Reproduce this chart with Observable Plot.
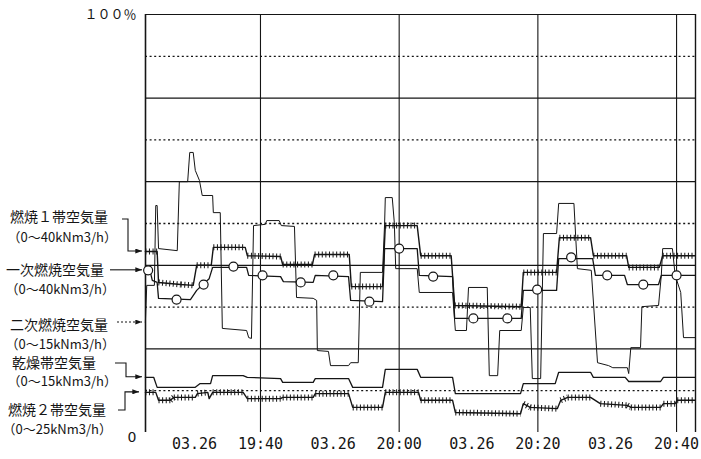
<!DOCTYPE html>
<html><head><meta charset="utf-8">
<script src="https://cdn.jsdelivr.net/npm/d3@7"></script>
<script src="https://cdn.jsdelivr.net/npm/@observablehq/plot@0.6"></script>
<style>body{margin:0;background:#fff} svg{display:block}</style>
</head><body><div id="chart"></div>
<script>
// time in minutes after 19:00, values in % of range
const timeTicks = [40, 60, 80, 100];
const timeLabels = ["19:40", "20:00", "20:20", "20:40"];
const dateLabel = "03.26";
const xDomain = [23.42, 102.73];

// 燃焼1帯空気量 (0~40kNm3/h)
const aT = [23.4,25.1,25.3,28.5,30.3,30.8,32.9,33.2,37.8,38.1,42.9,43.2,47.5,47.8,52.8,53.1,57.6,58.0,62.6,63.1,67.5,68.0,77.6,77.9,82.7,83.1,87.6,88.0,92.8,93.1,97.5,98.0,102.7];
const aV = [43.3,43.3,35.9,35.4,35.2,40.0,40.0,44.3,44.3,42.3,42.1,40.2,40.2,42.6,42.6,34.9,34.9,49.5,49.5,42.3,42.3,30.4,30.1,38.3,38.3,46.6,46.6,42.3,42.3,39.5,39.5,42.3,42.3];

// 一次燃焼空気量 (0~40kNm3/h)
const bT = [23.4,24.1,24.4,25.1,25.3,29.9,30.8,31.8,32.6,33.1,38.0,38.3,42.9,43.3,47.6,47.9,52.7,53.0,57.6,57.9,62.6,62.9,67.7,68.0,77.6,77.9,82.7,83.0,87.9,88.3,92.5,92.9,97.4,97.8,102.7];
const bV = [38.8,38.5,36.4,35.9,32.1,31.8,34.0,35.6,36.8,39.5,39.5,37.6,37.3,36.1,35.9,37.6,37.3,31.6,31.3,44.0,44.0,37.6,37.3,27.3,27.3,34.0,34.0,41.6,41.6,37.6,37.6,35.4,35.4,37.6,37.6];
const bMarkT = [23.8,27.9,31.8,36.1,40.3,45.8,50.5,55.7,60.0,64.9,70.7,75.6,79.9,84.8,90.0,95.2,100.0];
const bMarkV = [38.8,31.8,35.4,39.7,37.6,35.9,37.6,31.3,44.0,37.3,27.3,27.3,34.2,41.9,37.6,35.4,37.6];

// 二次燃焼空気量 (0~15kNm3/h)
const cT = [23.4,23.6,24.7,24.9,25.1,25.3,28.0,28.3,29.5,29.8,30.3,30.6,31.2,31.6,33.1,33.2,34.2,34.5,38.0,38.3,38.7,39.0,40.7,40.9,42.7,43.0,44.9,45.2,47.6,48.1,48.2,49.8,50.1,52.7,53.0,54.1,54.4,57.6,57.9,58.0,59.0,59.3,59.5,62.6,62.9,67.7,68.1,69.7,70.0,72.7,73.0,74.2,74.5,77.6,77.9,78.9,79.2,80.4,80.8,82.7,83.0,85.2,85.7,87.7,88.6,90.2,90.8,92.9,93.1,93.4,94.8,95.0,97.4,97.8,98.0,99.4,99.8,100.6,101.0,102.7];
const cV = [26.3,35.2,35.2,54.3,54.3,44.0,43.5,60.0,60.0,67.0,67.0,62.7,60.3,56.7,56.7,52.6,52.6,24.9,24.4,22.7,22.5,49.5,49.8,50.7,50.7,49.5,49.3,32.3,32.1,31.6,19.6,19.4,16.0,16.0,16.7,16.7,38.3,38.3,50.0,56.2,56.2,50.2,39.2,39.2,33.5,33.5,24.4,24.4,34.7,34.7,13.6,13.6,24.4,24.4,29.9,29.9,12.9,12.9,47.6,47.6,54.8,54.8,39.2,38.8,16.7,16.0,15.5,15.5,14.1,20.3,20.3,30.1,30.4,37.6,44.0,44.0,37.6,33.5,22.7,22.7];

// 乾燥帯空気量 (0~15kNm3/h)
const eT = [23.4,24.6,25.1,30.6,31.3,32.8,33.1,37.5,38.1,42.9,43.2,47.6,47.9,52.7,53.3,57.6,58.0,62.6,63.1,67.7,68.1,77.5,77.9,82.5,83.0,87.6,88.0,92.6,93.1,97.7,98.1,102.7];
const eV = [13.2,13.2,10.8,10.8,11.7,11.7,13.6,13.6,13.2,12.9,12.0,12.0,12.9,12.9,10.8,10.8,15.1,15.1,13.2,13.2,9.3,9.3,11.7,11.7,14.4,14.4,13.2,13.2,12.2,12.2,13.2,13.2];

// 燃焼2帯空気量 (0~25kNm3/h)
const fT = [23.4,24.9,25.3,27.0,27.5,30.6,30.9,32.4,32.6,33.1,37.5,38.1,42.9,43.2,47.6,47.9,52.7,53.3,57.6,58.0,62.8,63.1,67.7,68.1,77.5,77.9,78.9,82.8,83.3,84.3,87.6,89.0,92.9,93.4,97.7,98.1,99.8,100.1,102.7];
const fV = [9.6,9.6,7.7,7.7,8.4,8.4,9.3,9.6,8.1,9.6,9.6,8.1,8.1,8.4,8.4,9.3,9.3,6.0,6.0,9.6,9.6,7.7,7.7,4.8,4.5,6.9,6.0,5.7,7.7,8.4,8.4,6.9,6.5,6.0,6.0,6.9,6.9,7.7,7.7];

const names = ["燃焼１帯空気量","一次燃焼空気量","二次燃焼空気量","乾燥帯空気量","燃焼２帯空気量"];
const ranges = ["（0～40kNm3/h）","（0～40kNm3/h）","（0～15kNm3/h）","（0～15kNm3/h）","（0～25kNm3/h）"];

const toRows = (T, V) => T.map((t, i) => ({t, v: V[i]}));
const A = toRows(aT, aV), B = toRows(bT, bV), C = toRows(cT, cV), E = toRows(eT, eV), F = toRows(fT, fV);
const BM = toRows(bMarkT, bMarkV);
// flat stretches of a series (consecutive vertices) that carry the hatch marks
const flats = rows => rows.slice(1).map((r, i) => ({t1: rows[i].t, v1: rows[i].v, t2: r.t, v2: r.v}))
  .filter(s => s.t2 - s.t1 > 0.4 && Math.abs(s.v2 - s.v1) < 1.3);

const ink = "#151515";
const chart = Plot.plot({
  width: 701, height: 459,
  marginLeft: 145, marginRight: 6, marginTop: 14, marginBottom: 27,
  x: {domain: xDomain},
  y: {domain: [0, 100]},
  style: {background: "#fff", color: ink, fontFamily: "DejaVu Sans Mono", fontSize: "15px"},
  marks: [
    Plot.ruleY([10, 30, 50, 70, 90], {stroke: ink, strokeWidth: 1.3, strokeDasharray: "2,2.6"}),
    Plot.ruleY([20, 40, 60, 80, 100], {stroke: ink, strokeWidth: 1.2}),
    Plot.ruleX(timeTicks, {stroke: ink, strokeWidth: 1.1}),
    Plot.ruleX([xDomain[0]], {stroke: ink, strokeWidth: 1.6}),
    Plot.ruleX([xDomain[1]], {stroke: ink, strokeWidth: 1.4}),
    Plot.line(C, {x: "t", y: "v", stroke: ink, strokeWidth: 1}),
    Plot.line(E, {x: "t", y: "v", stroke: ink, strokeWidth: 1.3}),
    Plot.line(F, {x: "t", y: "v", stroke: ink, strokeWidth: 1.4}),
    Plot.link(flats(F), {x1: "t1", y1: "v1", x2: "t2", y2: "v2", stroke: ink, strokeWidth: 6, strokeDasharray: "1,2.6", strokeLinecap: "butt"}),
    Plot.line(A, {x: "t", y: "v", stroke: ink, strokeWidth: 1.4}),
    Plot.link(flats(A), {x1: "t1", y1: "v1", x2: "t2", y2: "v2", stroke: ink, strokeWidth: 6, strokeDasharray: "1,2.6", strokeLinecap: "butt"}),
    Plot.line(B, {x: "t", y: "v", stroke: ink, strokeWidth: 1.3}),
    Plot.dot(BM, {x: "t", y: "v", r: 4.5, fill: "#fff", stroke: ink, strokeWidth: 1.2}),
    Plot.axisX({ticks: timeTicks, tickFormat: d => timeLabels[timeTicks.indexOf(d)], tickSize: 0, tickPadding: 6, fontSize: 15}),
    Plot.axisX({ticks: timeTicks, tickFormat: () => dateLabel, tickSize: 0, tickPadding: 6, dx: -66, fontSize: 15}),
    Plot.axisY({ticks: [100], tickFormat: () => "１００％", tickSize: 0, tickPadding: 9, fontFamily: "Noto Sans CJK JP", fontSize: 13}),
    Plot.axisY({ticks: [0], tickFormat: () => "0", tickSize: 0, tickPadding: 9, dy: 5, fontFamily: "DejaVu Sans", fontSize: 14})
  ]
});
document.getElementById("chart").appendChild(chart);

// left-hand series labels with arrows to each series' start value
const y = chart.scale("y");
const svg = d3.select(chart);
svg.append("defs").append("marker")
  .attr("id", "ah").attr("viewBox", "0 0 8 6").attr("refX", 8).attr("refY", 3)
  .attr("markerWidth", 7).attr("markerHeight", 5).attr("markerUnits", "userSpaceOnUse").attr("orient", "auto")
  .append("path").attr("d", "M0,0L8,3L0,6Z").attr("fill", ink);

const nameX = [10, 6, 10, 12, 8], nameY = [217, 270, 325, 363, 410];
const rangeX = [117, 115, 115, 117, 112], rangeY = [237, 289, 344, 381, 429];
const g = svg.append("g").attr("font-family", "Noto Sans CJK JP").attr("fill", ink);
names.forEach((n, i) => g.append("text").attr("x", nameX[i]).attr("y", nameY[i]).attr("dy", "0.35em")
  .attr("text-anchor", "start").attr("font-size", 14).text(n));
ranges.forEach((r, i) => g.append("text").attr("x", rangeX[i]).attr("y", rangeY[i]).attr("dy", "0.35em")
  .attr("text-anchor", "end").attr("font-size", 13).text(r));

const starts = [aV[0], bV[0], cV[0], eV[0], fV[0]].map(v => y.apply(v));
const paths = [
  `M122,219H128V${starts[0]}H142`,
  `M110,${starts[1]}H142`,
  `M117,${starts[2]}H142`,
  `M115,363H126V${starts[3]}H142`,
  `M118,410H125V${starts[4]}H139`
];
paths.forEach((d, i) => svg.append("path").attr("d", d).attr("fill", "none").attr("stroke", ink)
  .attr("stroke-width", 1.1).attr("stroke-dasharray", i === 2 ? "2,2" : null).attr("marker-end", "url(#ah)"));
</script>
</body></html>
